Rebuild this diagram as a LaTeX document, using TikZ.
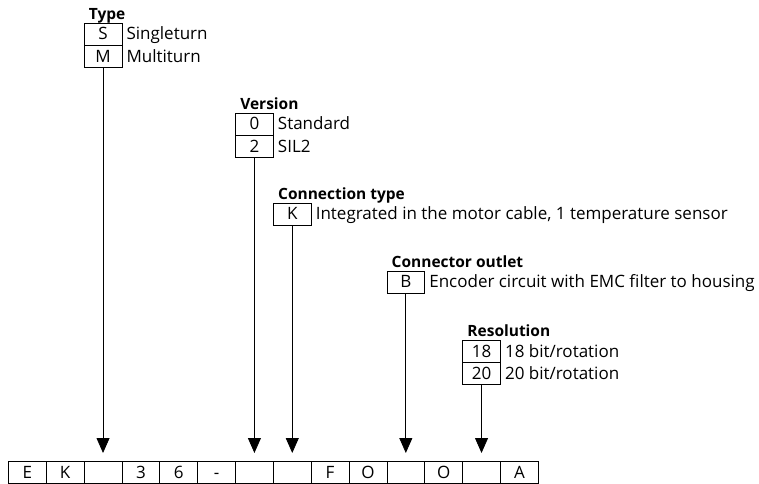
\documentclass[tikz,border=0pt]{standalone}
\usepackage{fontspec}
\setmainfont{Open Sans}
\usepackage{tikz}
\usetikzlibrary{positioning}
\usetikzlibrary{arrows.meta}

\begin{document}
\begin{tikzpicture}[x=1bp,y=-1bp,
	cell/.style={draw,line width=0.8bp,minimum width=37.85bp,minimum height=22bp,inner sep=0pt,text height=12bp,text depth=0pt,font=\fontsize{17bp}{20bp}\selectfont},
	desc/.style={anchor=west,inner sep=0pt,xshift=4bp,text height=12bp,text depth=0pt,font=\fontsize{17bp}{20bp}\selectfont},
	head/.style={anchor=base west,inner sep=0pt,xshift=5bp,yshift=3bp,font=\fontsize{15.5bp}{18bp}\selectfont\bfseries},
	pointer/.style={line width=0.8bp,-{Triangle[length=15bp,width=13bp]},shorten >=8bp}]
	\useasboundingbox (0,0) rectangle (759,484);
	\foreach \ch [count=\i] in {E,K,{},3,6,-,{},{},F,O,{},O,{},A}
		\node[cell,anchor=north west] (c\i) at ({8+37.85*(\i-1)},461) {\ch};
	\node[cell] (s) at (c3 |- 0,34) {S};
	\node[cell,below=0pt of s] (m) {M};
	\node[head] at (s.north west) {Type};
	\node[desc] at (s.east) {Singleturn};
	\node[desc] at (m.east) {Multiturn};
	\draw[pointer] (m.south) -- (c3.north);
	\node[cell] (v0) at (c7 |- 0,124) {0};
	\node[cell,below=0pt of v0] (v2) {2};
	\node[head] at (v0.north west) {Version};
	\node[desc] at (v0.east) {Standard};
	\node[desc] at (v2.east) {SIL2};
	\draw[pointer] (v2.south) -- (c7.north);
	\node[cell] (k) at (c8 |- 0,214) {K};
	\node[head] at (k.north west) {Connection type};
	\node[desc] at (k.east) {Integrated in the motor cable, 1 temperature sensor};
	\draw[pointer] (k.south) -- (c8.north);
	\node[cell] (b) at (c11 |- 0,282) {B};
	\node[head] at (b.north west) {Connector outlet};
	\node[desc] at (b.east) {Encoder circuit with EMC filter to housing};
	\draw[pointer] (b.south) -- (c11.north);
	\node[cell] (r18) at (c13 |- 0,351) {18};
	\node[cell,below=0pt of r18] (r20) {20};
	\node[head] at (r18.north west) {Resolution};
	\node[desc] at (r18.east) {18 bit/rotation};
	\node[desc] at (r20.east) {20 bit/rotation};
	\draw[pointer] (r20.south) -- (c13.north);
\end{tikzpicture}
\end{document}
